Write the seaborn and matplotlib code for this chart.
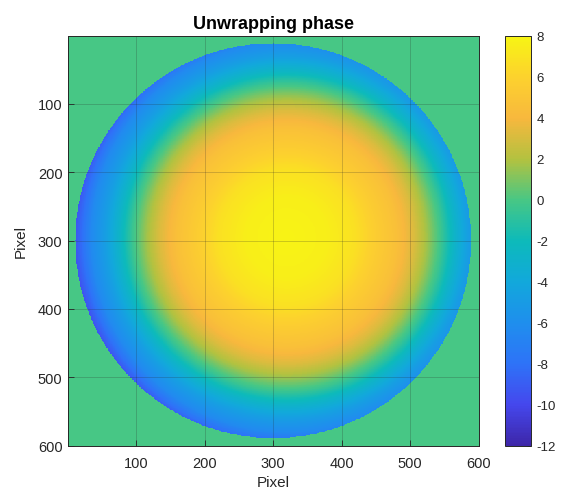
import numpy as np
import pandas as pd
import matplotlib
matplotlib.use("Agg")
import matplotlib.pyplot as plt
import seaborn as sns
from matplotlib.colors import LinearSegmentedColormap

# Radial phase profile (rad) measured from the phase centre, in pixels
radius_px = [0, 60, 100, 130, 160, 185, 205, 225, 245, 265, 285, 300, 310]
phase_rad = [7.9, 7.6, 6.8, 5.6, 4.6, 3.2, 1.6, -0.4, -2.8, -4.8, -6.3, -8.3, -9.5]
phase_centre = (320, 295)
aperture_centre = (300, 300)
aperture_radius = 289
background_phase = 0.0
image_size = 600

tick_values = [100, 200, 300, 400, 500, 600]
cbar_ticks = list(range(-12, 9, 2))

# parula-like colour map
parula_colors = [
    (0.24, 0.15, 0.66),
    (0.27, 0.28, 0.93),
    (0.18, 0.45, 0.97),
    (0.12, 0.56, 0.93),
    (0.07, 0.66, 0.86),
    (0.05, 0.73, 0.73),
    (0.28, 0.78, 0.52),
    (0.70, 0.76, 0.25),
    (0.97, 0.72, 0.24),
    (0.99, 0.82, 0.18),
    (0.97, 0.96, 0.08),
]
parula = LinearSegmentedColormap.from_list("parula", parula_colors, N=256)

# Unwrapped phase map over the circular aperture
pix = np.arange(1, image_size + 1)
X, Y = np.meshgrid(pix, pix)
d = np.hypot(X - phase_centre[0], Y - phase_centre[1])
phase = np.interp(d, radius_px, phase_rad)
outside = np.hypot(X - aperture_centre[0], Y - aperture_centre[1]) > aperture_radius
phase[outside] = background_phase
df = pd.DataFrame(phase, index=pix, columns=pix)

sns.set_style("white")
plt.rcParams["font.family"] = ["Liberation Sans", "DejaVu Sans"]

W, H = 567, 502
fig = plt.figure(figsize=(W / 100, H / 100), dpi=100)
ax = fig.add_axes([68 / W, 55 / H, 411 / W, 410 / H])
cax = fig.add_axes([505 / W, 55 / H, 26 / W, 410 / H])

sns.heatmap(df, ax=ax, cbar_ax=cax, cmap=parula, vmin=-12, vmax=8,
            xticklabels=False, yticklabels=False, rasterized=True)

text_col = "#262626"
ax.set_xticks([t - 0.5 for t in tick_values])
ax.set_xticklabels([str(t) for t in tick_values])
ax.set_yticks([t - 0.5 for t in tick_values])
ax.set_yticklabels([str(t) for t in tick_values], rotation=0)
ax.tick_params(axis="x", direction="in", length=4, width=0.6, pad=7,
               labelsize=10.5, colors=text_col, bottom=True)
ax.tick_params(axis="y", direction="in", length=4, width=0.6, pad=4,
               labelsize=10.5, colors=text_col, left=True)
for s in ax.spines.values():
    s.set_visible(True)
    s.set_color(text_col)
    s.set_linewidth(0.7)
ax.grid(True, color=text_col, alpha=0.25, linewidth=0.6)
ax.set_axisbelow(False)

ax.set_title("Unwrapping phase", fontsize=13, fontweight="bold", pad=6, color="black")
ax.set_xlabel("Pixel", fontsize=11, labelpad=4, color=text_col)
ax.set_ylabel("Pixel", fontsize=11, labelpad=7, color=text_col)

cbar = ax.collections[0].colorbar
cbar.set_ticks(cbar_ticks)
cbar.set_ticklabels([str(t) for t in cbar_ticks])
cbar.outline.set_visible(True)
cbar.outline.set_linewidth(0.7)
cbar.outline.set_edgecolor(text_col)
cbar.ax.tick_params(direction="in", length=3, width=0.6, pad=4,
                    labelsize=9.5, colors=text_col)

fig.savefig("out.png", dpi=100)
